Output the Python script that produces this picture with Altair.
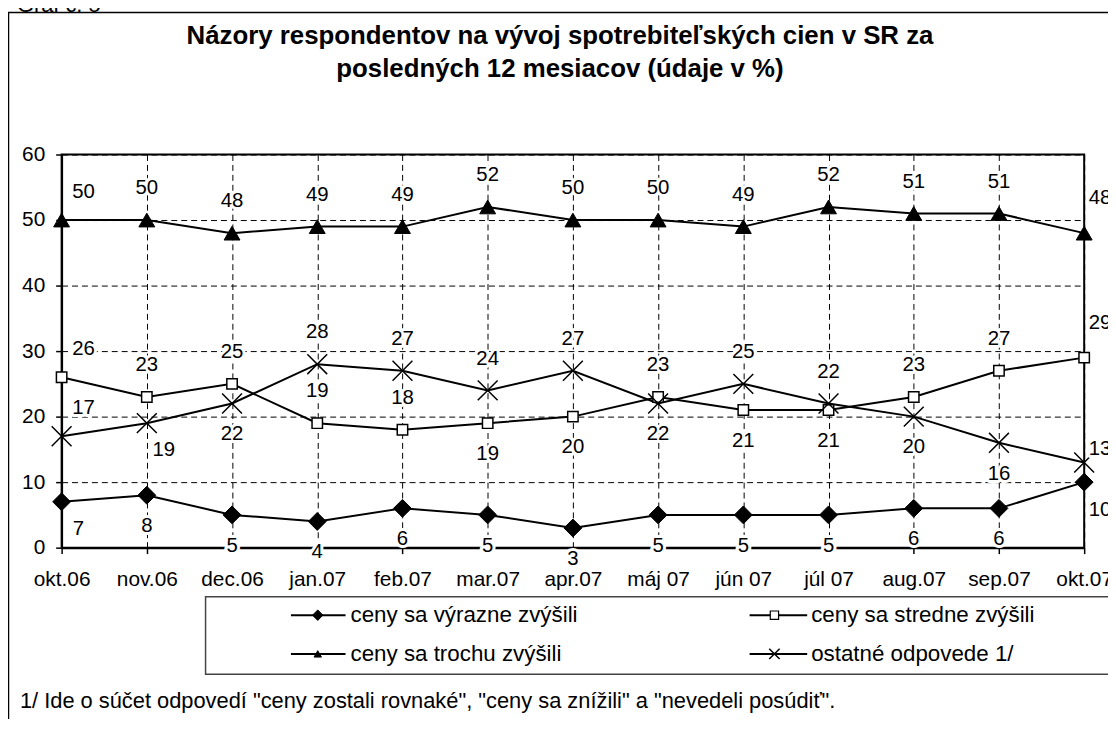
import altair as alt
import pandas as pd

# ---------------- data ----------------
months = ["okt.06", "nov.06", "dec.06", "jan.07", "feb.07", "mar.07", "apr.07",
          "máj 07", "jún 07", "júl 07", "aug.07", "sep.07", "okt.07"]

series_names = ["ceny sa výrazne zvýšili", "ceny sa stredne zvýšili",
                "ceny sa trochu zvýšili", "ostatné odpovede 1/"]

vyrazne = [7, 8, 5, 4, 6, 5, 3, 5, 5, 5, 6, 6, 10]
stredne = [26, 23, 25, 19, 18, 19, 20, 23, 21, 21, 23, 27, 29]
trochu = [50, 50, 48, 49, 49, 52, 50, 50, 49, 52, 51, 51, 48]
ostatne = [17, 19, 22, 28, 27, 24, 27, 22, 25, 22, 20, 16, 13]

# where each data label sits relative to its point
side_vyrazne = ["below_right"] + ["below"] * 11 + ["right_down"]
side_stredne = ["above_right", "above", "above", "above", "above", "below", "below",
                "above", "below", "below", "above", "above", "right_up"]
side_trochu = ["above_right"] + ["above"] * 11 + ["right_up"]
side_ostatne = ["above_right", "below_right", "below", "above", "above", "above", "above",
                "below", "above", "above", "below", "below", "right"]

title_lines = ["Názory respondentov na vývoj spotrebiteľských cien v SR za",
               "posledných 12 mesiacov (údaje v %)"]
graf_label = "Graf č. 5"
footnote = '1/ Ide o súčet odpovedí "ceny zostali rovnaké", "ceny sa znížili" a "nevedeli posúdiť".'
y_ticks = [0, 10, 20, 30, 40, 50, 60]

# ---------------- table ----------------
vals = [vyrazne, stredne, trochu, ostatne]
sides = [side_vyrazne, side_stredne, side_trochu, side_ostatne]
rows = []
for s, v, sd in zip(series_names, vals, sides):
    for m, val, side in zip(months, v, sd):
        rows.append({"month": m, "series": s, "value": val, "side": side})
df = pd.DataFrame(rows)

FONT = "Liberation Sans"
W, H = 1030, 396

offsets = {
    "above": (0, -32), "below": (0, 31),
    "above_right": (22, -28), "below_right": (17, 27),
    "right_up": (16, -35), "right": (16, -14), "right_down": (16, 28),
}

markers = {
    series_names[0]: dict(shape="diamond", size=324, filled=True, fill="black", stroke="black", strokeWidth=1),
    series_names[1]: dict(shape="square", size=110, filled=True, fill="white", stroke="black", strokeWidth=1.5),
    series_names[2]: dict(shape="triangle-up", size=256, filled=True, fill="black", stroke="black", strokeWidth=1),
    series_names[3]: dict(shape="M-1,-1L1,1M-1,1L1,-1", size=400, filled=False, stroke="black", strokeWidth=1.5),
}
legend_markers = {
    series_names[0]: dict(shape="diamond", size=110, filled=True, fill="black", stroke="black", strokeWidth=1),
    series_names[1]: dict(shape="square", size=70, filled=True, fill="white", stroke="black", strokeWidth=1.2),
    series_names[2]: dict(shape="triangle-up", size=55, filled=True, fill="black", stroke="black", strokeWidth=1),
    series_names[3]: dict(shape="M-1,-1L1,1M-1,1L1,-1", size=110, filled=False, stroke="black", strokeWidth=1.5),
}

base = alt.Chart(df).encode(
    x=alt.X("month:O", sort=months, title=None,
            scale=alt.Scale(type="point", padding=0),
            axis=alt.Axis(labelAngle=0, labelPadding=15, grid=True, tickSize=6)),
    y=alt.Y("value:Q", title=None,
            scale=alt.Scale(domain=[0, 60], nice=False, zero=True),
            axis=alt.Axis(values=y_ticks, labelPadding=11, grid=True, tickSize=6)),
)

layers = []

# outer frame of the figure
one = pd.DataFrame({"k": [0]})
layers.append(alt.Chart(one).mark_rect(fill="transparent", stroke="black", strokeWidth=1.5).encode(
    x=alt.value(-53.5), x2=alt.value(1100), y=alt.value(-143), y2=alt.value(620)))

lines = base.mark_line(color="black", strokeWidth=2).encode(detail="series:N")
layers.append(lines)

for s in series_names:
    mk = markers[s]
    layers.append(base.transform_filter(alt.datum.series == s).mark_point(opacity=1, **mk))

for code, (dx, dy) in offsets.items():
    sub = base.transform_filter(alt.datum.side == code)
    layers.append(sub.mark_text(font=FONT, fontSize=20.5, dx=dx, dy=dy, baseline="middle",
                                align="center", fill="white", stroke="white",
                                strokeWidth=6, strokeJoin="round").encode(text="value:Q"))
    layers.append(sub.mark_text(font=FONT, fontSize=20.5, dx=dx, dy=dy, baseline="middle",
                                align="center", fill="black").encode(text="value:Q"))

# title
for i, line in enumerate(title_lines):
    layers.append(alt.Chart(pd.DataFrame({"t": [line]})).mark_text(
        font=FONT, fontSize=26, fontWeight="bold", align="center", baseline="middle", color="black"
    ).encode(x=alt.value(502), y=alt.value(-119 + 33 * i), text="t:N"))

layers.append(alt.Chart(pd.DataFrame({"t": [graf_label]})).mark_text(
    font=FONT, fontSize=22, align="left", baseline="alphabetic", color="black"
).encode(x=alt.value(-45), y=alt.value(-144), text="t:N"))

# legend box
layers.append(alt.Chart(one).mark_rect(fill="white", stroke="#444", strokeWidth=1.5).encode(
    x=alt.value(145), x2=alt.value(1080), y=alt.value(445.5), y2=alt.value(523.5)))

col_x = [(231, 286, 258, 291), (693, 751, 718, 755)]
row_y = [464, 503]
for i, s in enumerate(series_names):
    x0, x1, xm, xt = col_x[i % 2]
    yy = row_y[i // 2]
    layers.append(alt.Chart(one).mark_rule(color="black", strokeWidth=2).encode(
        x=alt.value(x0), x2=alt.value(x1), y=alt.value(yy)))
    layers.append(alt.Chart(one).mark_point(opacity=1, **legend_markers[s]).encode(
        x=alt.value(xm), y=alt.value(yy)))
    layers.append(alt.Chart(pd.DataFrame({"t": [s]})).mark_text(
        font=FONT, fontSize=22.5, align="left", baseline="middle", color="black"
    ).encode(x=alt.value(xt), y=alt.value(yy), text="t:N"))

# footnote
layers.append(alt.Chart(pd.DataFrame({"t": [footnote]})).mark_text(
    font=FONT, fontSize=22, align="left", baseline="middle", color="black"
).encode(x=alt.value(-42), y=alt.value(551), text="t:N"))

chart = alt.layer(*layers).properties(
    width=W, height=H,
    autosize=alt.AutoSizeParams(type="none"),
    padding={"left": 54, "top": 145, "right": 24, "bottom": 170},
    background="white",
).configure_view(
    stroke="black", strokeWidth=2
).configure_axis(
    labelFont=FONT, labelFontSize=21, labelColor="black",
    domainColor="black", domainWidth=2,
    tickColor="black", tickWidth=1.5,
    gridColor="black", gridDash=[6, 4], gridWidth=1, gridOpacity=1,
)

chart.save("out.html", embed_options={"renderer": "svg", "actions": False})
